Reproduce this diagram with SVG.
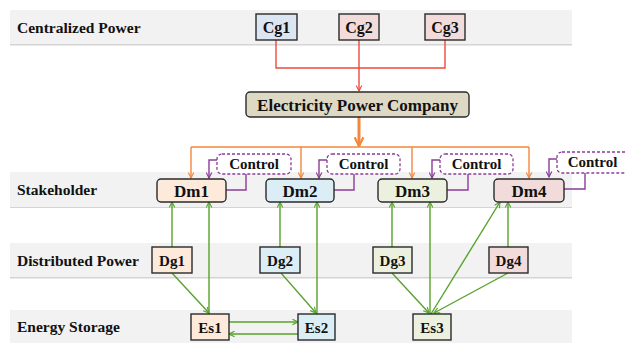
<svg xmlns="http://www.w3.org/2000/svg" width="625" height="343" viewBox="0 0 625 343">
<style>
.band{fill:#f2f2f2}
.bshadow{fill:#d4d4d4}
.lbl{font-family:"Liberation Serif","Times New Roman",serif;font-weight:bold;font-size:15.5px;fill:#111}
.nt{font-family:"Liberation Serif","Times New Roman",serif;font-weight:bold;fill:#111;text-anchor:middle}
.box{stroke:#2a2a2a;stroke-width:1.4}
.ctl{fill:#fff;stroke:#8a3c98;stroke-width:1.3;stroke-dasharray:3,2}
.red{fill:none;stroke:#ee4a3e;stroke-width:1.4}
.org{fill:none;stroke:#f4873b;stroke-width:1.4}
.pur{fill:none;stroke:#8a3c98;stroke-width:1.4}
.grn{fill:none;stroke:#58a22c;stroke-width:1.4}
.peach{fill:#fdeada}.cyan{fill:#dbeef5}.lgreen{fill:#ecf1df}.pink{fill:#f2dcdb}.lblue{fill:#dce6f2}.khaki{fill:#ddd9c4}
</style>
<defs>
<marker id="aG" viewBox="0 0 10 10" refX="9" refY="5" markerWidth="7" markerHeight="7" markerUnits="userSpaceOnUse" orient="auto"><path d="M1,1 L9,5 L1,9" fill="none" stroke="#58a22c" stroke-width="1.6"/></marker>
<marker id="aR" viewBox="0 0 10 10" refX="9" refY="5" markerWidth="7" markerHeight="7" markerUnits="userSpaceOnUse" orient="auto"><path d="M1,1 L9,5 L1,9" fill="none" stroke="#ee4a3e" stroke-width="1.6"/></marker>
<marker id="aO" viewBox="0 0 10 10" refX="9" refY="5" markerWidth="7" markerHeight="7" markerUnits="userSpaceOnUse" orient="auto"><path d="M1,1 L9,5 L1,9" fill="none" stroke="#f4873b" stroke-width="1.6"/></marker>
<marker id="aOb" viewBox="0 0 10 10" refX="9" refY="5" markerWidth="11" markerHeight="11" markerUnits="userSpaceOnUse" orient="auto"><path d="M1,1 L9,5 L1,9" fill="none" stroke="#f4873b" stroke-width="2"/></marker>
<marker id="aP" viewBox="0 0 10 10" refX="9" refY="5" markerWidth="7" markerHeight="7" markerUnits="userSpaceOnUse" orient="auto"><path d="M1,1 L9,5 L1,9" fill="none" stroke="#8a3c98" stroke-width="1.6"/></marker>
</defs>

<g id="bands">
<rect class="bshadow" x="10" y="11" width="562" height="34.5"/>
<rect class="band" x="10" y="10" width="562" height="34"/>
<text class="lbl" x="17" y="33">Centralized Power</text>
<rect class="bshadow" x="10" y="173" width="562" height="35"/>
<rect class="band" x="10" y="172" width="562" height="35"/>
<text class="lbl" x="17" y="195">Stakeholder</text>
<rect class="bshadow" x="10" y="244" width="562" height="34.5"/>
<rect class="band" x="10" y="243" width="562" height="34"/>
<text class="lbl" x="17" y="266">Distributed Power</text>
<rect class="band" x="10" y="310" width="562" height="33"/>
<text class="lbl" x="17" y="332">Energy Storage</text>
</g>

<g id="connectors">
<path class="red" d="M276,40 V68 H445 V40"/>
<path class="red" d="M359,40 V91" marker-end="url(#aR)"/>
<path d="M359,117 V146" fill="none" stroke="#f4873b" stroke-width="3" marker-end="url(#aOb)"/>
<path class="org" d="M191,147 H529"/>
<path class="org" d="M191,147 V178" marker-end="url(#aO)"/>
<path class="org" d="M301,147 V178" marker-end="url(#aO)"/>
<path class="org" d="M412,147 V178" marker-end="url(#aO)"/>
<path class="org" d="M529,147 V178" marker-end="url(#aO)"/>
<path class="pur" d="M217,160 H209 V178" marker-end="url(#aP)"/>
<path class="pur" d="M226,190 H246 V174"/>
<path class="pur" d="M327,160 H319 V178" marker-end="url(#aP)"/>
<path class="pur" d="M334,190 H354 V174"/>
<path class="pur" d="M440,160 H432 V178" marker-end="url(#aP)"/>
<path class="pur" d="M447,190 H468 V174"/>
<path class="pur" d="M557,159 H549 V177" marker-end="url(#aP)"/>
<path class="pur" d="M564,189 H585 V173"/>
<path class="grn" d="M172,247 V202" marker-end="url(#aG)"/>
<path class="grn" d="M209,314 V202" marker-end="url(#aG)"/>
<path class="grn" d="M172,273 L209,313" marker-end="url(#aG)"/>
<path class="grn" d="M280,247 V202" marker-end="url(#aG)"/>
<path class="grn" d="M317,314 V202" marker-end="url(#aG)"/>
<path class="grn" d="M281,273 L316,313" marker-end="url(#aG)"/>
<path class="grn" d="M392,247 V202" marker-end="url(#aG)"/>
<path class="grn" d="M430,314 V202" marker-end="url(#aG)"/>
<path class="grn" d="M392,273 L429,313" marker-end="url(#aG)"/>
<path class="grn" d="M431,314 L500,202" marker-end="url(#aG)"/>
<path class="grn" d="M508,247 V202" marker-end="url(#aG)"/>
<path class="grn" d="M508,273 L434,313" marker-end="url(#aG)"/>
<path class="grn" d="M229,322 H298" marker-end="url(#aG)"/>
<path class="grn" d="M298,334 H229" marker-end="url(#aG)"/>
</g>

<g id="Cg1"><rect class="box lblue" x="256" y="14" width="41" height="26"/><text class="nt" x="276.5" y="33" font-size="16">Cg1</text></g>
<g id="Cg2"><rect class="box pink" x="339" y="14" width="40" height="26"/><text class="nt" x="359" y="33" font-size="16">Cg2</text></g>
<g id="Cg3"><rect class="box pink" x="425" y="14" width="40" height="26"/><text class="nt" x="445" y="33" font-size="16">Cg3</text></g>

<g id="EPC"><rect class="box khaki" x="246" y="92" width="223" height="25" rx="4"/><text class="nt" x="357.5" y="110.5" font-size="17">Electricity Power Company</text></g>

<g id="Control1"><rect class="ctl" x="217" y="154" width="74" height="20" rx="5"/><text class="nt" x="254" y="169" font-size="15">Control</text></g>
<g id="Control2"><rect class="ctl" x="327" y="154" width="73" height="20" rx="5"/><text class="nt" x="363.5" y="169" font-size="15">Control</text></g>
<g id="Control3"><rect class="ctl" x="440" y="154" width="73" height="20" rx="5"/><text class="nt" x="476.5" y="169" font-size="15">Control</text></g>
<g id="Control4"><rect class="ctl" x="557" y="152" width="78" height="21" rx="5"/><text class="nt" x="592.5" y="167" font-size="15">Control</text></g>

<g id="Dm1"><rect class="box peach" x="157" y="179" width="69" height="23" rx="4"/><text class="nt" x="191.5" y="196.5" font-size="17">Dm1</text></g>
<g id="Dm2"><rect class="box cyan" x="266" y="179" width="68" height="23" rx="4"/><text class="nt" x="300" y="196.5" font-size="17">Dm2</text></g>
<g id="Dm3"><rect class="box lgreen" x="378" y="179" width="69" height="23" rx="4"/><text class="nt" x="412.5" y="196.5" font-size="17">Dm3</text></g>
<g id="Dm4"><rect class="box pink" x="494" y="179" width="70" height="23" rx="4"/><text class="nt" x="529" y="196.5" font-size="17">Dm4</text></g>

<g id="Dg1"><rect class="box peach" x="152" y="247" width="40" height="26"/><text class="nt" x="172" y="265.5" font-size="15">Dg1</text></g>
<g id="Dg2"><rect class="box cyan" x="260" y="247" width="40" height="26"/><text class="nt" x="280" y="265.5" font-size="15">Dg2</text></g>
<g id="Dg3"><rect class="box lgreen" x="373" y="247" width="39" height="26"/><text class="nt" x="392.5" y="265.5" font-size="15">Dg3</text></g>
<g id="Dg4"><rect class="box pink" x="489" y="247" width="39" height="26"/><text class="nt" x="508.5" y="265.5" font-size="15">Dg4</text></g>

<g id="Es1"><rect class="box peach" x="191" y="314" width="38" height="26"/><text class="nt" x="210" y="332.5" font-size="15">Es1</text></g>
<g id="Es2"><rect class="box cyan" x="298" y="314" width="37" height="26"/><text class="nt" x="316.5" y="332.5" font-size="15">Es2</text></g>
<g id="Es3"><rect class="box lgreen" x="413" y="314" width="38" height="26"/><text class="nt" x="432" y="332.5" font-size="15">Es3</text></g>
</svg>
